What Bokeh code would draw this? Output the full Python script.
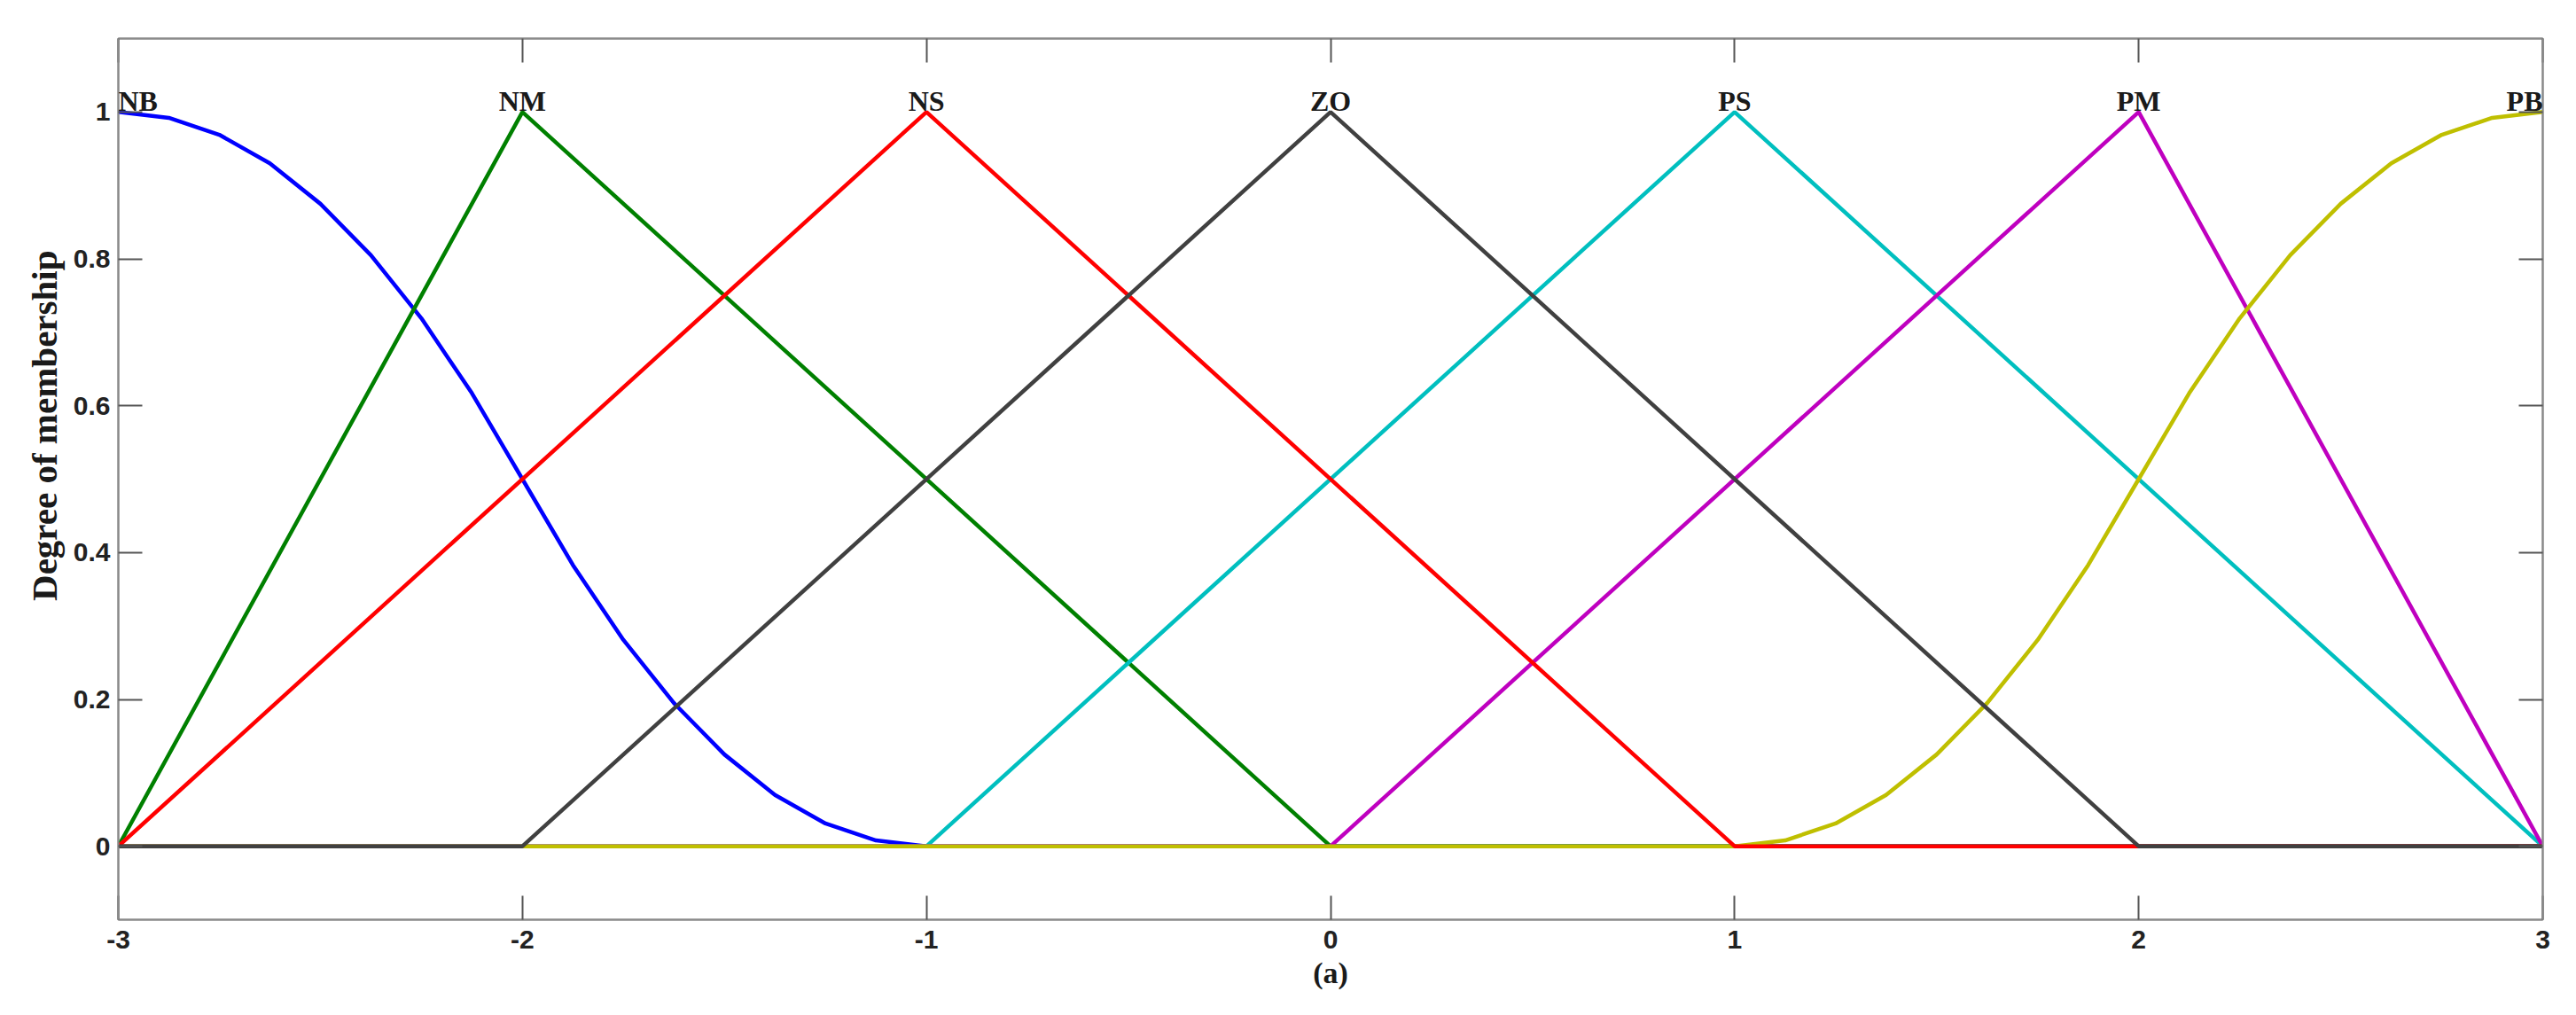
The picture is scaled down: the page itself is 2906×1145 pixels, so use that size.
from bokeh.plotting import figure
from bokeh.models import Range1d, LinearAxis, FixedTicker, Label, Title
from bokeh.embed import file_html
from bokeh.resources import INLINE

# ---- data ----
x_ticks = [-3, -2, -1, 0, 1, 2, 3]
x_tick_labels = ["-3", "-2", "-1", "0", "1", "2", "3"]
y_ticks = [0, 0.2, 0.4, 0.6, 0.8, 1]
y_tick_labels = ["0", "0.2", "0.4", "0.6", "0.8", "1"]

nb_x = [-3, -2.875, -2.75, -2.625, -2.5, -2.375, -2.25, -2.125, -2, -1.875, -1.75,
        -1.625, -1.5, -1.375, -1.25, -1.125, -1, 3]
nb_y = [1, 0.992, 0.969, 0.93, 0.875, 0.805, 0.719, 0.617, 0.5, 0.383, 0.281,
        0.195, 0.125, 0.07, 0.031, 0.008, 0, 0]

nm_x = [-3, -2, 0, 3]
nm_y = [0, 1, 0, 0]

ns_x = [-3, -1, 1, 3]
ns_y = [0, 1, 0, 0]

zo_x = [-3, -2, 0, 2, 3]
zo_y = [0, 0, 1, 0, 0]

ps_x = [-3, -1, 1, 3]
ps_y = [0, 0, 1, 0]

pm_x = [-3, 0, 2, 3]
pm_y = [0, 0, 1, 0]

pb_x = [-3, 1, 1.125, 1.25, 1.375, 1.5, 1.625, 1.75, 1.875, 2, 2.125, 2.25,
        2.375, 2.5, 2.625, 2.75, 2.875, 3]
pb_y = [0, 0, 0.008, 0.031, 0.07, 0.125, 0.195, 0.281, 0.383, 0.5, 0.617, 0.719,
        0.805, 0.875, 0.93, 0.969, 0.992, 1]

mf_names = ["NB", "NM", "NS", "ZO", "PS", "PM", "PB"]
mf_peaks = [-3, -2, -1, 0, 1, 2, 3]

colors = {"NB": "#0000FF", "NM": "#008000", "NS": "#FF0000", "ZO": "#404040",
          "PS": "#00BFBF", "PM": "#BF00BF", "PB": "#BFBF00"}
series = {"NB": (nb_x, nb_y), "NM": (nm_x, nm_y), "NS": (ns_x, ns_y),
          "ZO": (zo_x, zo_y), "PS": (ps_x, ps_y), "PM": (pm_x, pm_y),
          "PB": (pb_x, pb_y)}
draw_order = ["NB", "NM", "PS", "PM", "PB", "NS", "ZO"]

TICK_FONT = "Liberation Sans"
SERIF = "Liberation Serif"

p = figure(frame_width=2735, frame_height=994,
           x_range=Range1d(-3, 3), y_range=Range1d(-0.1, 1.1),
           output_backend="svg", toolbar_location=None,
           min_border_left=133, min_border_right=30,
           min_border_top=43, min_border_bottom=90)
p.background_fill_color = "white"
p.border_fill_color = "white"
p.grid.visible = False
p.outline_line_color = "#8a8a8a"
p.outline_line_width = 2

for name in draw_order:
    xs, ys = series[name]
    p.line(xs, ys, line_color=colors[name], line_width=4.5)

# peak labels
for name, px in zip(mf_names, mf_peaks):
    align = "left" if px == x_ticks[0] else ("right" if px == x_ticks[-1] else "center")
    p.add_layout(Label(x=px, y=1, text=name, text_align=align,
                       text_baseline="alphabetic", y_offset=12,
                       text_font=SERIF, text_font_style="bold",
                       text_font_size="32px", text_color="#1a1a1a"))

def style_axis(ax):
    ax.axis_line_color = "#8a8a8a"
    ax.axis_line_width = 2
    ax.major_tick_in = 27
    ax.major_tick_out = 0
    ax.major_tick_line_color = "#555555"
    ax.major_tick_line_width = 2
    ax.minor_tick_line_color = None
    ax.major_label_text_font = TICK_FONT
    ax.major_label_text_font_style = "bold"
    ax.major_label_text_color = "#222222"
    ax.major_label_text_font_size = "30px"

p.xaxis.ticker = FixedTicker(ticks=x_ticks)
p.yaxis.ticker = FixedTicker(ticks=y_ticks)
p.xaxis.major_label_overrides = {t: s for t, s in zip(x_ticks, x_tick_labels)}
p.yaxis.major_label_overrides = {t: s for t, s in zip(y_ticks, y_tick_labels)}
style_axis(p.xaxis[0])
style_axis(p.yaxis[0])
p.xaxis.major_label_standoff = 12
p.yaxis.major_label_standoff = 9
p.xaxis.axis_label = "(a)"
p.xaxis.axis_label_text_font = SERIF
p.xaxis.axis_label_text_font_style = "bold"
p.xaxis.axis_label_text_font_size = "34px"
p.xaxis.axis_label_text_color = "#1a1a1a"
p.xaxis.axis_label_standoff = 6

# box ticks on top and right (no labels)
top_ax = LinearAxis(ticker=FixedTicker(ticks=x_ticks))
right_ax = LinearAxis(ticker=FixedTicker(ticks=y_ticks))
for ax in (top_ax, right_ax):
    style_axis(ax)
    ax.major_label_text_color = None
    ax.major_label_text_font_size = "1px"
    ax.major_label_standoff = 0
top_ax.major_label_overrides = {t: "" for t in x_ticks}
right_ax.major_label_overrides = {t: "" for t in y_ticks}
p.add_layout(top_ax, "above")
p.add_layout(right_ax, "right")

# y axis title, placed above centre as in the reference
p.add_layout(Title(text="Degree of membership", align="right", offset=239,
                   text_font=SERIF, text_font_style="bold",
                   text_font_size="41px", text_color="#1a1a1a",
                   standoff=14), "left")

open("out.html", "w").write(file_html(p, INLINE))
